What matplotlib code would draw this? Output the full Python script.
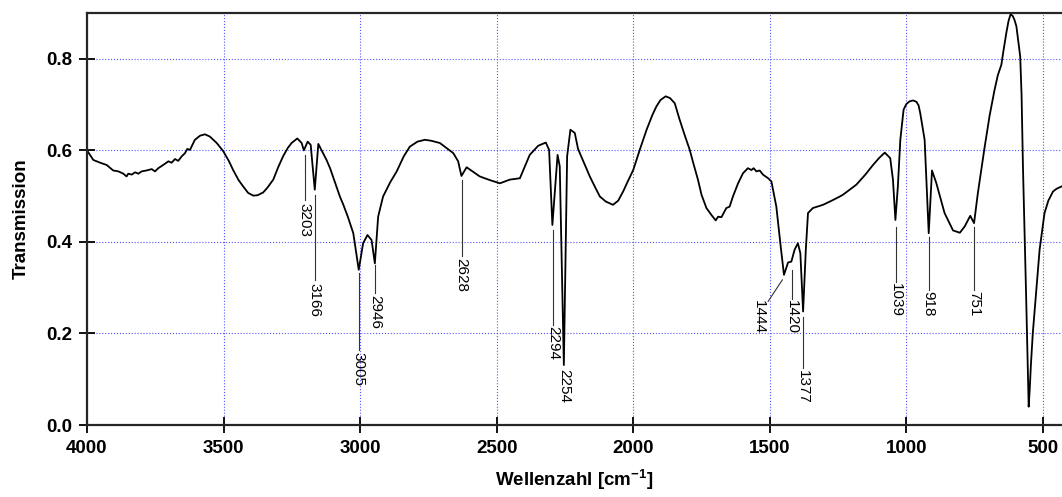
import numpy as np
import matplotlib.pyplot as plt

plt.rcParams['font.family'] = ['Liberation Sans', 'DejaVu Sans']
plt.rcParams['mathtext.fontset'] = 'custom'
plt.rcParams['mathtext.rm'] = 'Liberation Sans'
plt.rcParams['mathtext.bf'] = 'Liberation Sans:bold'

# spectrum (wavenumber cm-1, transmission)
wavenumber = [4000, 3977, 3952, 3928, 3904, 3885, 3867, 3855, 3849, 3836, 3824, 3812,
              3800, 3782, 3763, 3751, 3739, 3721, 3702, 3690, 3678, 3666, 3653, 3641,
              3633, 3623, 3605, 3586, 3568, 3550, 3525, 3501, 3480, 3465, 3445, 3428,
              3410, 3391, 3375, 3355, 3340, 3318, 3300, 3282, 3265, 3251, 3230, 3214,
              3206, 3192, 3181, 3166, 3153, 3123, 3110, 3074, 3062, 3045, 3025, 3005,
              2989, 2973, 2958, 2946, 2934, 2916, 2890, 2866, 2840, 2818, 2790, 2763,
              2740, 2708, 2659, 2641, 2629, 2610, 2562, 2525, 2488, 2452, 2415, 2379,
              2348, 2320, 2308, 2296, 2277, 2269, 2254, 2242, 2230, 2214, 2202, 2159,
              2140, 2122, 2100, 2074, 2055, 2037, 2020, 2000, 1975, 1951, 1930, 1915,
              1900, 1881, 1865, 1848, 1830, 1812, 1793, 1780, 1763, 1750, 1732, 1714,
              1698, 1689, 1677, 1659, 1647, 1635, 1616, 1598, 1580, 1567, 1559, 1549,
              1537, 1525, 1506, 1494, 1476, 1460, 1448, 1433, 1421, 1409, 1397, 1388,
              1378, 1368, 1360, 1342, 1305, 1270, 1244, 1232, 1183, 1150, 1122, 1100,
              1079, 1059, 1049, 1040, 1031, 1022, 1010, 1000, 988, 975, 963, 955,
              949, 933, 918, 906, 890, 860, 829, 804, 786, 766, 752, 738,
              713, 695, 677, 665, 652, 645, 634, 626, 618, 610, 604, 597,
              583, 578, 573, 567, 561, 556, 552, 548, 544, 537, 512, 494,
              480, 463, 450, 432]
transmission = [0.600, 0.579, 0.573, 0.568, 0.556, 0.554, 0.549, 0.543, 0.549, 0.547, 0.552, 0.549,
                0.554, 0.556, 0.559, 0.554, 0.561, 0.568, 0.576, 0.573, 0.581, 0.577, 0.587, 0.594,
                0.603, 0.601, 0.623, 0.632, 0.635, 0.630, 0.616, 0.598, 0.576, 0.557, 0.535, 0.521,
                0.507, 0.501, 0.502, 0.508, 0.518, 0.536, 0.563, 0.587, 0.605, 0.616, 0.626, 0.616,
                0.600, 0.619, 0.612, 0.514, 0.614, 0.579, 0.561, 0.499, 0.482, 0.455, 0.419, 0.339,
                0.397, 0.415, 0.404, 0.353, 0.455, 0.499, 0.530, 0.554, 0.587, 0.608, 0.619, 0.623,
                0.621, 0.616, 0.594, 0.576, 0.544, 0.563, 0.543, 0.535, 0.528, 0.536, 0.539, 0.590,
                0.610, 0.617, 0.601, 0.437, 0.590, 0.565, 0.131, 0.587, 0.645, 0.638, 0.603, 0.543,
                0.520, 0.499, 0.488, 0.481, 0.490, 0.510, 0.532, 0.557, 0.603, 0.645, 0.677, 0.696,
                0.710, 0.718, 0.714, 0.703, 0.667, 0.634, 0.601, 0.572, 0.536, 0.503, 0.474, 0.459,
                0.447, 0.455, 0.454, 0.474, 0.477, 0.499, 0.528, 0.550, 0.561, 0.557, 0.561, 0.554,
                0.556, 0.547, 0.539, 0.532, 0.477, 0.390, 0.328, 0.355, 0.357, 0.383, 0.397, 0.375,
                0.248, 0.383, 0.463, 0.474, 0.481, 0.491, 0.499, 0.503, 0.525, 0.547, 0.568, 0.583,
                0.595, 0.583, 0.536, 0.448, 0.521, 0.623, 0.689, 0.701, 0.707, 0.709, 0.706, 0.698,
                0.681, 0.623, 0.419, 0.556, 0.528, 0.463, 0.425, 0.420, 0.434, 0.457, 0.441, 0.507,
                0.608, 0.676, 0.732, 0.764, 0.787, 0.815, 0.856, 0.882, 0.898, 0.893, 0.885, 0.871,
                0.805, 0.720, 0.565, 0.420, 0.273, 0.140, 0.040, 0.080, 0.130, 0.200, 0.383, 0.463,
                0.490, 0.510, 0.516, 0.521]

# peak labels
peak_labels = ['3203', '3166', '3005', '2946', '2628', '2294', '2254',
               '1444', '1420', '1377', '1039', '918', '751']

# leader line (x, y start, y end) and text top, in data units
leaders = {
    '3203': (3203, 0.590, 0.492, 0.485),
    '3166': (3166, 0.503, 0.317, 0.310),
    '3005': (3005, 0.332, 0.164, 0.160),
    '2946': (2946, 0.350, 0.289, 0.284),
    '2628': (2628, 0.536, 0.369, 0.365),
    '2294': (2294, 0.426, 0.219, 0.216),
    '2254': (2254, None, None, 0.122),
    '1420': (1420, 0.339, 0.276, 0.273),
    '1377': (1377, 0.236, 0.125, 0.120),
    '1039': (1039, 0.433, 0.313, 0.310),
    '918': (918, 0.411, 0.295, 0.293),
    '751': (751, 0.433, 0.295, 0.293),
}

fig = plt.figure(figsize=(10.62, 4.97), dpi=100)
ax = fig.add_axes([87 / 1062, 1 - 425 / 497, 1 - 87 / 1062, 412 / 497])

ax.plot(wavenumber, transmission, color='black', lw=1.3)

for lab in peak_labels:
    if lab == '1444':
        ax.plot([1454, 1506], [0.317, 0.270], color='0.2', lw=0.8)
        ax.text(1541, 0.273, lab, rotation=-90, ha='center', va='top', fontsize=11)
        continue
    x, y0, y1, yt = leaders[lab]
    if y0 is not None:
        ax.plot([x, x], [y0, y1], color='0.2', lw=0.8)
    ax.text(x, yt, lab, rotation=-90, ha='center', va='top', fontsize=11)

ax.set_xlim(4000, 430)
ax.set_ylim(0, 0.9)
ax.set_xticks([4000, 3500, 3000, 2500, 2000, 1500, 1000, 500])
ax.set_yticks([0.0, 0.2, 0.4, 0.6, 0.8])
ax.set_yticklabels(['0.0', '0.2', '0.4', '0.6', '0.8'])
ax.grid(True, color='#5555ff', linestyle=':', lw=0.8)
ax.tick_params(direction='inout', length=11, width=1.3, labelsize=13.5, pad=5)
for t in ax.get_xticklabels() + ax.get_yticklabels():
    t.set_fontweight('bold')

for s in ['left', 'bottom', 'top']:
    ax.spines[s].set_linewidth(1.6)
    ax.spines[s].set_color('0.15')
ax.spines['right'].set_visible(False)

ax.set_xlabel(r'Wellenzahl [cm$^{\mathbf{-1}}$]', fontsize=13.5, fontweight='bold', labelpad=8)
ax.set_ylabel('Transmission', fontsize=13.5, fontweight='bold', labelpad=12)

fig.savefig('out.png', dpi=100)
